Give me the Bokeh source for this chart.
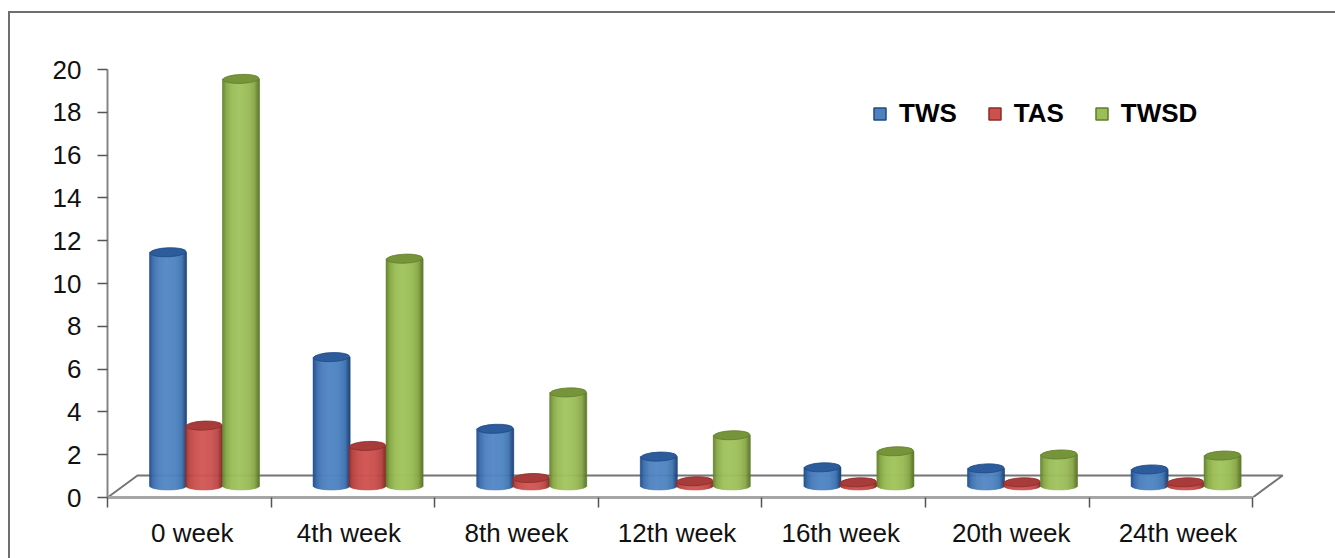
import numpy as np
from bokeh.embed import file_html
from bokeh.models import FixedTicker, InlineStyleSheet, Legend, LegendItem, Range1d
from bokeh.plotting import figure
from bokeh.resources import INLINE

# Treatment score per follow-up visit
weeks = ["0 week", "4th week", "8th week", "12th week", "16th week", "20th week", "24th week"]
tws = [10.9, 6.0, 2.65, 1.35, 0.85, 0.8, 0.75]
tas = [2.8, 1.85, 0.35, 0.2, 0.15, 0.15, 0.15]
twsd = [19.0, 10.6, 4.35, 2.35, 1.6, 1.45, 1.4]
y_ticks = list(range(0, 21, 2))

# Pixel geometry of the plot frame
W, H = 1335, 558
LEFT, TOP, FLOOR_Y, RIGHT = 107, 69, 497, 1290
CAT_PX = 163.6
UNIT_PX = 21.4
cat = lambda px: px / CAT_PX
val = lambda px: px / UNIT_PX

p = figure(
    width=W, height=H, output_backend="svg", toolbar_location=None,
    x_range=Range1d(0, cat(RIGHT - LEFT)), y_range=Range1d(0, 20),
    min_border_left=LEFT, min_border_right=W - RIGHT,
    min_border_top=TOP, min_border_bottom=H - FLOOR_Y,
    background_fill_color="white", border_fill_color="white",
    outline_line_color=None, tools="",
)
p.grid.visible = False

# Page rule along the top and the left
p.stylesheets = [InlineStyleSheet(css=(
    ":host::after { content: ''; position: absolute; left: 8px; top: 11px; right: 0; bottom: 0;"
    " border-top: 2px solid #6f6f6f; border-left: 2px solid #6f6f6f;"
    " pointer-events: none; z-index: 10; }"
))]

# Value axis
ya = p.yaxis[0]
ya.ticker = FixedTicker(ticks=y_ticks)
ya.axis_line_color = "#858585"
ya.axis_line_width = 2
ya.major_tick_line_color = "#555555"
ya.major_tick_line_width = 1.5
ya.major_tick_out = 10
ya.major_tick_in = 0
ya.minor_tick_line_color = None
ya.major_label_text_font = "Liberation Sans"
ya.major_label_text_font_size = "26px"
ya.major_label_text_color = "#111111"
ya.major_label_standoff = 16

# Category axis: labels on the group centres, tick marks on the group boundaries
nudges_px = [3, -4, 0, -3, -3, 4, 7]
centres = [i + 0.5 + cat(n) for i, n in enumerate(nudges_px)]
xa = p.xaxis[0]
xa.ticker = FixedTicker(ticks=centres, minor_ticks=list(range(len(weeks) + 1)))
xa.major_label_overrides = {c: w for c, w in zip(centres, weeks)}
xa.bounds = (0, len(weeks))
xa.axis_line_color = "#a6a6a6"
xa.axis_line_width = 3
xa.major_tick_line_color = None
xa.major_tick_out = 0
xa.major_tick_in = 0
xa.minor_tick_line_color = "#555555"
xa.minor_tick_line_width = 1.5
xa.minor_tick_out = 10
xa.minor_tick_in = 0
xa.major_label_text_font = "Liberation Sans"
xa.major_label_text_font_size = "26px"
xa.major_label_text_color = "#111111"
xa.major_label_standoff = 10

# Chart floor in oblique projection
depth_x, depth_y = cat(30), val(22)
n = len(weeks)
p.line([0, depth_x, n + depth_x, n], [0, depth_y, depth_y, 0],
       line_color="#757575", line_width=2)


def hex_rgb(code):
    return [int(code[i:i + 2], 16) for i in (1, 3, 5)]


# Cylinders are built from narrow strips shaded across their width
series = [
    ("TWS", tws, 0.370, ["#1d4a86", "#3a6cae", "#4f81bd", "#5488c6", "#5085c2", "#4175b2", "#1a3f75"], "#2c5c9b"),
    ("TAS", tas, 0.590, ["#8f2b29", "#b8443f", "#c9514e", "#d05755", "#cb5350", "#b94845", "#842725"], "#a83c3a"),
    ("TWSD", twsd, 0.816, ["#5f7d2a", "#86a746", "#9cbe58", "#a3c560", "#9cbd59", "#8aa84a", "#587426"], "#76953a"),
]
BAR_PX = 37
BASE = val(12)
CAP_PX = 9
STRIPS = 37
strip_w = cat(BAR_PX) / STRIPS
u = (np.arange(STRIPS) + 0.5) / STRIPS * 2 - 1
stops = [-1, -0.8, -0.5, -0.1, 0.4, 0.75, 1]

legend_items = []
for name, values, offset, shades, cap in series:
    xs = np.arange(n) + offset
    tops = BASE + np.array(values)
    rgb = np.array([hex_rgb(s) for s in shades], dtype=float)
    for k in range(STRIPS):
        colour = "#%02x%02x%02x" % tuple(int(round(np.interp(u[k], stops, rgb[:, c]))) for c in range(3))
        sag = val(CAP_PX / 2) * np.sqrt(1 - u[k] ** 2)
        p.vbar(x=xs + u[k] * cat(BAR_PX) / 2, top=tops, bottom=BASE - sag,
               width=strip_w, fill_color=colour, line_color=colour, line_width=0.6)
    p.ellipse(x=xs, y=tops, width=BAR_PX - 1, height=CAP_PX, width_units="screen",
              height_units="screen", angle=0.04, fill_color=cap,
              line_color=shades[0], line_width=0.8)
    # Off-range row: this renderer only supplies the legend swatch
    swatch = p.vbar(x=[float("nan")], top=[float("nan")], bottom=[float("nan")], width=1,
                    fill_color=shades[2], line_color=shades[0], line_width=1.5)
    legend_items.append(LegendItem(label=name, renderers=[swatch]))

legend = Legend(items=legend_items, orientation="horizontal",
                location=(873 - LEFT - 1, FLOOR_Y - 129),
                glyph_width=15, glyph_height=15, label_standoff=12, spacing=30,
                padding=0, margin=0, border_line_color=None, background_fill_alpha=0,
                label_text_font="Liberation Sans", label_text_font_style="bold",
                label_text_font_size="26px", label_text_color="#000000")
p.add_layout(legend)

open("out.html", "w").write(file_html(p, INLINE))
